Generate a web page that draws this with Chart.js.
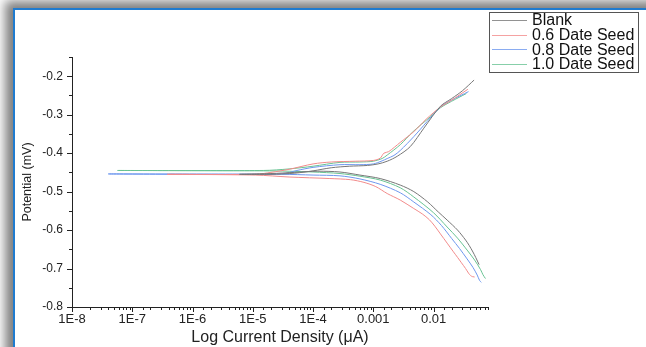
<!DOCTYPE html>
<html>
<head>
<meta charset="utf-8">
<title>Potentiodynamic polarization</title>
<script src="https://cdn.jsdelivr.net/npm/chart.js@4.4.1/dist/chart.umd.min.js"></script>
<style>
  html, body { margin: 0; padding: 0; background: #fff; overflow: hidden; }
  #frame { position: relative; width: 646px; height: 347px; overflow: hidden; background: #fff; }
  #paper {
    position: absolute; left: 13px; top: 8px; width: 700px; height: 400px; background: #fff;
    border-left: 2px solid #1f7bcf; border-top: 2px solid #1f7bcf;
    box-shadow: -5px -4px 10px 3px rgba(0, 0, 0, 0.5);
  }
  #chart { position: absolute; left: 0; top: 0; }
</style>
</head>
<body>
<div id="frame">
  <div id="paper"></div>
  <canvas id="chart" width="646" height="347"></canvas>
</div>
<script>
  // Curves: current density (x, log axis) and potential (y)
  const seriesNames = ['Blank', '0.6 Date Seed', '0.8 Date Seed', '1.0 Date Seed'];
  const seriesColors = ['#777777', '#f28b8b', '#6d97ee', '#69c393'];

  const blankCurrent = [0.057, 0.05, 0.045, 0.039, 0.034, 0.025, 0.0168, 0.012, 0.008, 0.0047, 0.0028, 0.0013, 0.0006, 0.00028, 0.00012, 0.00005, 0.00002, 0.000006, 0.00002, 0.00005, 0.0001, 0.0002, 0.0004, 0.0008, 0.0012, 0.0017, 0.0025, 0.0041, 0.0069, 0.013, 0.02, 0.03, 0.047];
  const blankPotential = [-0.690, -0.671, -0.657, -0.640, -0.626, -0.600, -0.574, -0.553, -0.527, -0.500, -0.483, -0.466, -0.457, -0.449, -0.447, -0.450, -0.453, -0.455, -0.455, -0.452, -0.446, -0.438, -0.434, -0.432, -0.428, -0.421, -0.408, -0.383, -0.335, -0.278, -0.258, -0.238, -0.210];

  const seed06Current = [0.048, 0.044, 0.041, 0.038, 0.034, 0.029, 0.025, 0.021, 0.0168, 0.013, 0.0105, 0.0085, 0.0065, 0.0047, 0.0028, 0.0017, 0.0011, 0.0007, 0.00042, 0.00019, 0.00004, 0.000011, 0.00000038, 0.000011, 0.00002, 0.00004, 0.0001, 0.0002, 0.0005, 0.001, 0.0013, 0.0015, 0.0018, 0.0028, 0.0047, 0.0075, 0.013, 0.02, 0.037];
  const seed06Potential = [-0.722, -0.721, -0.718, -0.712, -0.700, -0.685, -0.671, -0.655, -0.634, -0.610, -0.590, -0.573, -0.558, -0.544, -0.522, -0.505, -0.487, -0.476, -0.469, -0.466, -0.462, -0.457, -0.455, -0.455, -0.450, -0.442, -0.428, -0.423, -0.421, -0.419, -0.413, -0.400, -0.396, -0.372, -0.344, -0.312, -0.280, -0.262, -0.234];

  const seed08Current = [0.062, 0.058, 0.053, 0.045, 0.036, 0.027, 0.02, 0.0135, 0.009, 0.0047, 0.0028, 0.0013, 0.0006, 0.00028, 0.0001, 0.00003, 0.00000004, 0.00003, 0.000054, 0.0001, 0.00028, 0.0006, 0.001, 0.0014, 0.0017, 0.0022, 0.0028, 0.0047, 0.0078, 0.013, 0.02, 0.038];
  const seed08Potential = [-0.736, -0.731, -0.717, -0.697, -0.675, -0.648, -0.622, -0.588, -0.560, -0.527, -0.503, -0.481, -0.467, -0.459, -0.457, -0.455, -0.454, -0.454, -0.445, -0.437, -0.430, -0.430, -0.428, -0.420, -0.414, -0.406, -0.393, -0.357, -0.318, -0.280, -0.262, -0.240];

  const seed10Current = [0.0726, 0.066, 0.0603, 0.048, 0.036, 0.025, 0.0168, 0.01, 0.0047, 0.0028, 0.0013, 0.0006, 0.00028, 0.0001, 0.00004, 0.000015, 0.000000057, 0.000015, 0.00004, 0.0001, 0.00028, 0.0006, 0.001, 0.0014, 0.0017, 0.0028, 0.0045, 0.0089, 0.013, 0.02, 0.035];
  const seed10Potential = [-0.726, -0.716, -0.703, -0.678, -0.652, -0.621, -0.592, -0.555, -0.514, -0.490, -0.470, -0.460, -0.453, -0.449, -0.447, -0.446, -0.445, -0.445, -0.441, -0.434, -0.424, -0.423, -0.421, -0.414, -0.405, -0.378, -0.345, -0.305, -0.282, -0.265, -0.245];

  const xMajor = [1e-8, 1e-7, 1e-6, 1e-5, 1e-4, 1e-3, 1e-2];
  const xTickLabels = ['1E-8', '1E-7', '1E-6', '1E-5', '1E-4', '0.001', '0.01'];
  const yMajor = [-0.8, -0.7, -0.6, -0.5, -0.4, -0.3, -0.2];
  const yTickLabels = ['-0.8', '-0.7', '-0.6', '-0.5', '-0.4', '-0.3', '-0.2'];

  const currents = [blankCurrent, seed06Current, seed08Current, seed10Current];
  const potentials = [blankPotential, seed06Potential, seed08Potential, seed10Potential];

  const axisColor = '#222';
  Chart.defaults.font.family = 'Arial, "Liberation Sans", sans-serif';
  Chart.defaults.color = axisColor;

  function toPoints(xs, ys) {
    return xs.map((x, i) => ({ x: x, y: ys[i] }));
  }

  function xMajorIndex(v) {
    return xMajor.findIndex(m => Math.abs(Math.log10(v / m)) < 1e-6);
  }

  function yMajorIndex(v) {
    return yMajor.findIndex(m => Math.abs(m - v) < 1e-6);
  }

  // short minor ticks, longer ones at the labelled values, pointing outward
  const tickMarks = {
    id: 'tickMarks',
    afterDraw(chart) {
      const { ctx, scales: { x, y } } = chart;
      ctx.save();
      ctx.strokeStyle = axisColor;
      ctx.lineWidth = 1;
      ctx.beginPath();
      x.ticks.forEach(t => {
        const px = Math.round(x.getPixelForValue(t.value)) + 0.5;
        const len = xMajorIndex(t.value) >= 0 ? 5 : 3;
        ctx.moveTo(px, x.top);
        ctx.lineTo(px, x.top + len);
      });
      y.ticks.forEach(t => {
        const py = Math.round(y.getPixelForValue(t.value)) + 0.5;
        const len = yMajorIndex(t.value) >= 0 ? 5 : 3;
        ctx.moveTo(y.right, py);
        ctx.lineTo(y.right - len, py);
      });
      ctx.stroke();
      ctx.restore();
    }
  };

  // boxed legend in the top right corner, line samples like the original
  const boxLegend = {
    id: 'boxLegend',
    afterDraw(chart) {
      const ctx = chart.ctx;
      const left = chart.chartArea.right + 1;
      const top = 12;
      const width = 149;
      const rowGap = 14.6;
      const height = 60;
      ctx.save();
      ctx.fillStyle = '#fff';
      ctx.fillRect(left, top, width, height);
      ctx.strokeStyle = '#555';
      ctx.lineWidth = 1;
      ctx.strokeRect(left + 0.5, top + 0.5, width, height);
      ctx.font = '16px Arial, "Liberation Sans", sans-serif';
      ctx.textBaseline = 'middle';
      chart.data.datasets.forEach((ds, i) => {
        const cy = top + 8 + i * rowGap;
        ctx.strokeStyle = ds.borderColor;
        ctx.globalAlpha = 0.8;
        ctx.beginPath();
        ctx.moveTo(left + 3, Math.round(cy) + 0.5);
        ctx.lineTo(left + 38, Math.round(cy) + 0.5);
        ctx.stroke();
        ctx.globalAlpha = 1;
        ctx.fillStyle = '#111';
        ctx.fillText(ds.label, left + 43, cy + 1);
      });
      ctx.restore();
    }
  };

  new Chart(document.getElementById('chart'), {
    type: 'scatter',
    data: {
      datasets: seriesNames.map((name, i) => ({
        label: name,
        data: toPoints(currents[i], potentials[i]),
        showLine: true,
        borderColor: seriesColors[i],
        backgroundColor: seriesColors[i],
        borderWidth: 1,
        pointRadius: 0,
        tension: 0.3,
        fill: false
      }))
    },
    options: {
      responsive: false,
      animation: false,
      layout: { padding: { left: 0, right: 158, top: 57, bottom: 0 } },
      plugins: {
        legend: { display: false },
        tooltip: { enabled: false }
      },
      scales: {
        x: {
          type: 'logarithmic',
          min: 1e-8,
          max: 0.08,
          afterFit(scale) { scale.height = 40; },
          grid: { display: true, drawOnChartArea: false, drawTicks: false },
          border: { display: true, color: axisColor, width: 1 },
          ticks: {
            autoSkip: false,
            maxRotation: 0,
            padding: 5,
            font: { size: 13 },
            callback(value) {
              const i = xMajorIndex(value);
              return i >= 0 ? xTickLabels[i] : '';
            }
          },
          title: {
            display: true,
            text: 'Log Current Density (\u03bcA)',
            font: { size: 16 },
            padding: { top: 0, bottom: 0 }
          }
        },
        y: {
          min: -0.8,
          max: -0.15,
          afterFit(scale) { scale.width = 72; },
          grid: { display: true, drawOnChartArea: false, drawTicks: false },
          border: { display: true, color: axisColor, width: 1 },
          ticks: {
            stepSize: 0.05,
            autoSkip: false,
            padding: 9,
            font: { size: 12 },
            callback(value) {
              const i = yMajorIndex(value);
              return i >= 0 ? yTickLabels[i] : '';
            }
          },
          title: {
            display: true,
            text: 'Potential (mV)',
            font: { size: 12.5 },
            padding: { top: 20, bottom: 0 }
          }
        }
      }
    },
    plugins: [tickMarks, boxLegend]
  });
</script>
</body>
</html>
